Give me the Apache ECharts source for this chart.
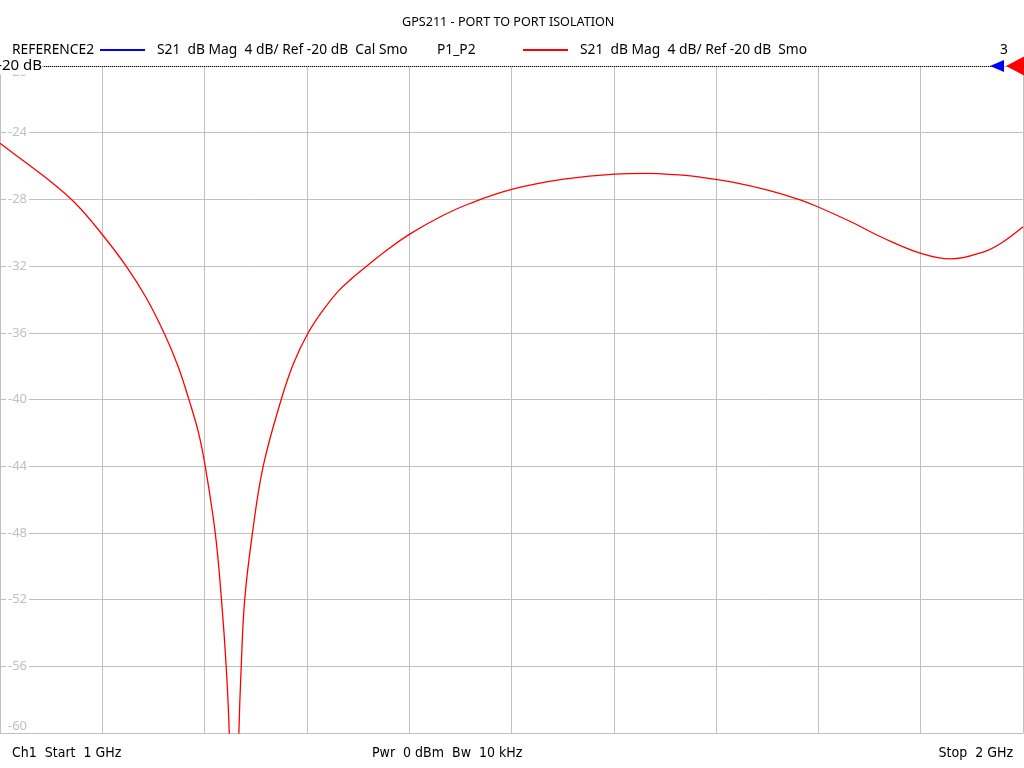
<!DOCTYPE html>
<html>
<head>
<meta charset="utf-8">
<script src="https://cdn.jsdelivr.net/npm/echarts@6/dist/echarts.min.js"></script>
<style>html,body{margin:0;padding:0;background:#fff}#c{width:1024px;height:768px}</style>
</head>
<body>
<div id="c"></div>
<script>
const chartTitle = 'GPS211 - PORT TO PORT ISOLATION';
const refName = 'REFERENCE2';
const refSeriesName = 'S21  dB Mag  4 dB/ Ref -20 dB  Cal Smo';
const measName = 'P1_P2';
const measSeriesName = 'S21  dB Mag  4 dB/ Ref -20 dB  Smo';
const markerCount = '3';
const footerLeft = 'Ch1  Start  1 GHz';
const footerMid = 'Pwr  0 dBm  Bw  10 kHz';
const footerRight = 'Stop  2 GHz';

const freqGHz = [1.0000, 1.0245, 1.0489, 1.0734, 1.0978, 1.1233, 1.1429, 1.1605, 1.1742, 1.1849, 1.1942, 1.2006, 1.2104, 1.2165, 1.2211, 1.2241, 1.2290, 1.2335, 1.2358, 1.2392, 1.2468, 1.2573, 1.2749, 1.2870, 1.3010, 1.3160, 1.3307, 1.3444, 1.3581, 1.3796, 1.4009, 1.4305, 1.4599, 1.5010, 1.5509, 1.6008, 1.6311, 1.6605, 1.6849, 1.7172, 1.7505, 1.7828, 1.8004, 1.8317, 1.8640, 1.9018, 1.9295, 1.9618, 1.9785, 2.0000];
const s21dB = [-24.63, -25.76, -26.90, -28.22, -29.94, -32.00, -33.90, -36.03, -38.03, -40.05, -42.03, -44.00, -48.00, -52.00, -56.00, -60.00, -72.00, -60.00, -56.00, -52.00, -48.00, -44.00, -40.00, -37.83, -36.03, -34.62, -33.50, -32.72, -32.02, -30.98, -30.07, -29.04, -28.23, -27.39, -26.79, -26.48, -26.44, -26.52, -26.67, -26.98, -27.45, -28.04, -28.47, -29.34, -30.33, -31.27, -31.57, -31.14, -30.63, -29.64];
const refLevel = -20;
const yMin = -60, yMax = -20, yStep = 4;
const xMin = 1, xMax = 2, xStep = 0.1;

const FONT = 'Noto Sans';
const FOOT_FONT = 'DejaVu Sans Condensed';
const chart = echarts.init(document.getElementById('c'));
const txt = (text, pos, size, fam) => Object.assign({
  text: text, padding: 0,
  textStyle: {fontFamily: fam || FONT, fontSize: size || 13.8, fontWeight: 'normal', color: '#000'}
}, pos);

chart.setOption({
  animation: false,
  backgroundColor: '#fff',
  title: [
    txt(chartTitle, {left: 402, top: 16}, 12.6),
    txt(refName, {left: 12, top: 43}),
    txt(measName, {left: 437, top: 43}),
    txt(markerCount, {left: 1000, top: 43}),
    txt(footerLeft, {left: 12, top: 746}, 14, FOOT_FONT),
    txt(footerMid, {left: 372, top: 746}, 14, FOOT_FONT),
    txt(footerRight, {right: 11, top: 746}, 14, FOOT_FONT)
  ],
  legend: [
    {data: [refSeriesName], left: 100, top: 43, padding: 0, icon: 'rect', itemWidth: 45, itemHeight: 2, selectedMode: false,
     textStyle: {fontFamily: FONT, fontSize: 13.8, color: '#000', padding: [0, 0, 0, 7]}},
    {data: [measSeriesName], left: 523, top: 43, padding: 0, icon: 'rect', itemWidth: 45, itemHeight: 2, selectedMode: false,
     textStyle: {fontFamily: FONT, fontSize: 13.8, color: '#000', padding: [0, 0, 0, 7]}}
  ],
  grid: {left: 0, right: 1, top: 66, bottom: 35, containLabel: false},
  xAxis: {
    type: 'value', min: xMin, max: xMax, interval: xStep,
    axisLine: {show: true, lineStyle: {color: '#c0c0c0'}},
    axisTick: {show: false}, axisLabel: {show: false},
    splitLine: {show: true, lineStyle: {color: '#c0c0c0', width: 1}}
  },
  yAxis: {
    type: 'value', min: yMin, max: yMax, interval: yStep,
    axisLine: {show: true, lineStyle: {color: '#c0c0c0'}},
    axisTick: {show: false},
    axisLabel: {inside: true, margin: 6, color: '#c0c0c0', fontFamily: FONT, fontSize: 13,
      backgroundColor: '#fff', padding: [0, 2],
      verticalAlignMinLabel: 'bottom', verticalAlignMaxLabel: 'top'},
    splitLine: {show: true, lineStyle: {color: '#c0c0c0', width: 1}}
  },
  series: [
    {name: refSeriesName, type: 'line', data: [], color: '#0000ff', showSymbol: false, lineStyle: {width: 2}},
    {name: measSeriesName, type: 'line', color: '#ff0000', showSymbol: false, smooth: 0.4, clip: true,
     lineStyle: {width: 1.3, color: '#ff0000'},
     data: freqGHz.map((f, i) => [f, s21dB[i]]),
     markLine: {silent: true, symbol: ['none', 'none'],
       lineStyle: {type: 'dotted', color: '#000', width: 1},
       label: {show: true, position: 'start', formatter: '-20 dB', color: '#000', fontFamily: FONT, fontSize: 15,
         backgroundColor: '#fff', distance: 2, padding: [2, 0, 0, 0]},
       data: [[{coord: [1.043, refLevel]}, {coord: [1.969, refLevel]}]]},
     markPoint: {silent: true, label: {show: false},
       data: [
         {coord: [xMax, refLevel], symbol: 'triangle', symbolSize: [12, 14], symbolRotate: 90, symbolOffset: [-26, 0], itemStyle: {color: '#0000ff'}},
         {coord: [xMax, refLevel], symbol: 'triangle', symbolSize: [19, 18], symbolRotate: 90, symbolOffset: [-8, 0], itemStyle: {color: '#ff0000'}}
       ]}
    }
  ]
});
</script>
</body>
</html>
